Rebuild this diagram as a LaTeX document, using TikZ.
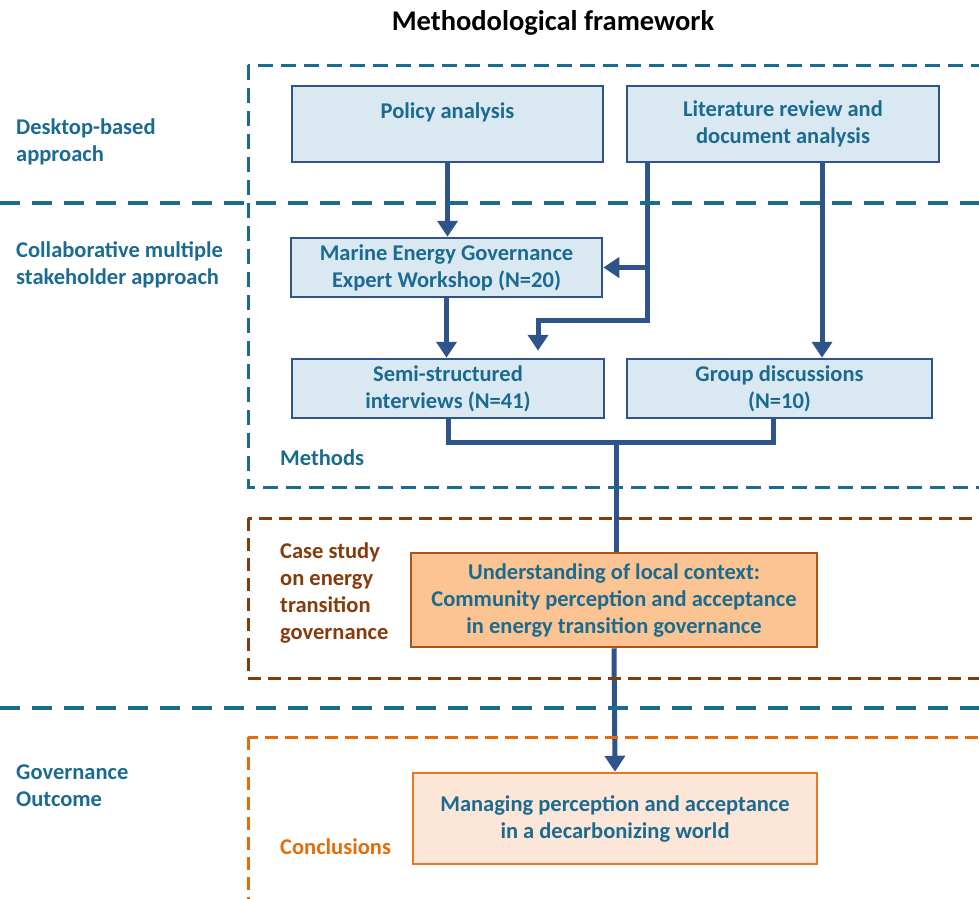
\documentclass[tikz,border=0pt]{standalone}
\usepackage{fontspec}
\setmainfont{Carlito}
\usetikzlibrary{arrows.meta}
\definecolor{tealtxt}{RGB}{27,107,145}
\definecolor{navyln}{RGB}{46,84,138}
\definecolor{boxblue}{RGB}{218,232,242}
\definecolor{brownln}{RGB}{132,60,12}
\definecolor{peach}{RGB}{251,196,146}
\definecolor{peachln}{RGB}{176,84,22}
\definecolor{orangeln}{RGB}{228,108,10}
\definecolor{cream}{RGB}{252,230,216}
\definecolor{creamln}{RGB}{233,117,40}

\begin{document}
\begin{tikzpicture}
        [x = 1pt, y = -1pt, >= {Triangle[width=20pt,length=16pt]},
         every node/.style = {font=\fontsize{22.5}{27}\selectfont\bfseries, text=tealtxt, align=center},
         side/.style = {anchor=west, align=left, inner sep=0pt},
         blbox/.style = {draw=navyln, fill=boxblue, line width=2.5pt},
         arr/.style = {draw=navyln, line width=5pt},
         sepline/.style = {draw=tealtxt, line width=3.5pt, dash pattern=on 20pt off 12pt},
         zone/.style = {line width=3pt, dash pattern=on 13pt off 7pt}]
        \useasboundingbox (0,0) rectangle (979,898);
        \clip (0,0) rectangle (979,898);
        \node[text=black, font=\fontsize{28.5}{33}\selectfont\bfseries] (title) at (553,23) {Methodological framework};
        \node[blbox, minimum width=311, minimum height=76] (pol) at (447.5,124) {Policy analysis\\~};
        \node[blbox, minimum width=312, minimum height=76] (lit) at (783,124) {Literature review and\\document analysis};
        \node[blbox, minimum width=311, minimum height=59] (mar) at (446.5,267.5) {Marine Energy Governance\\Expert Workshop (N=20)};
        \node[blbox, minimum width=312, minimum height=59] (semi) at (448,388.5) {Semi-structured\\interviews (N=41)};
        \node[blbox, minimum width=305, minimum height=59] (grp) at (779.5,388.5) {Group discussions\\(N=10)};
        \node[draw=peachln, fill=peach, line width=2.5pt, minimum width=406, minimum height=94] (und) at (614,600)
          {Understanding of local context:\\Community perception and acceptance\\in energy transition governance};
        \node[draw=creamln, fill=cream, line width=2.5pt, minimum width=404, minimum height=91] (man) at (615,818.5)
          {Managing perception and acceptance\\in a decarbonizing world};
        \node[side] (desk) at (16,141.5) {Desktop-based\\approach};
        \node[side] (coll) at (16,264.5) {Collaborative multiple\\stakeholder approach};
        \node[side] (gov) at (16,785.5) {Governance\\Outcome};
        \node[side] (meth) at (280,458) {Methods};
        \node[side, text=brownln] (case) at (280,592.5) {Case study\\on energy\\transition\\governance};
        \node[side, text=orangeln] (concl) at (280,847) {Conclusions};
        \coordinate (br) at (647,320);
        \coordinate (sj) at (538,320);
        \coordinate (rg) at (822,0);
        \coordinate (gl) at (773,0);
        \coordinate (jn) at (616,442);
        \draw[arr, ->] (pol.south) -- (pol.south |- mar.north);
        \draw[arr, ->] (br |- mar.east) -- (mar.east);
        \draw[arr, ->, shorten >= 7pt] (lit.south -| br) |- (sj) -- (sj |- semi.north);
        \draw[arr, ->] (lit.south -| rg) -- (grp.north -| rg);
        \draw[arr, ->] (mar.south) -- (mar.south |- semi.north);
        \draw[arr] (semi.south) |- (jn) -| (grp.south -| gl);
        \draw[arr] (jn) -- (jn |- und.north);
        \draw[arr, ->] (und.south) -- (man.north);
        \draw[sepline] (0,203) -- (979,203);
        \draw[sepline] (0,708) -- (979,708);
        \draw[zone, draw=tealtxt, dash pattern=on 15pt off 8pt] (248,65) rectangle (1000,487);
        \draw[zone, draw=brownln] (248,518) rectangle (1000,678);
        \draw[zone, draw=orangeln] (248,737) rectangle (1000,920);
      \end{tikzpicture}
\end{document}
